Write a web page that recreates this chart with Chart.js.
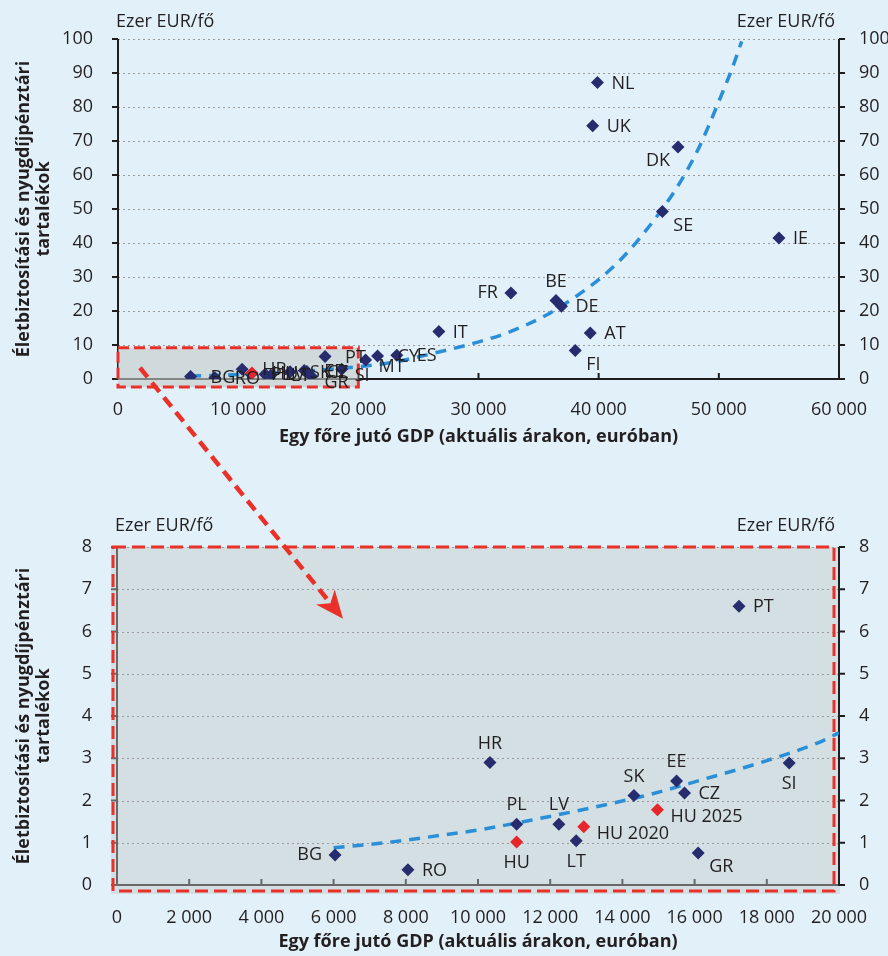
<!DOCTYPE html>
<html>
<head>
<meta charset="utf-8">
<script src="https://cdn.jsdelivr.net/npm/chart.js@4.4.1/dist/chart.umd.min.js"></script>
<style>
  body { margin: 0; background: #e2f0f9; }
  #wrap { position: relative; width: 888px; height: 956px; }
  #topChart { position: absolute; left: 0; top: 0; }
  #bottomChart { position: absolute; left: 0; top: 500px; }
  #arrow { position: absolute; left: 0; top: 0; pointer-events: none; }
</style>
</head>
<body>
<div id="wrap">
  <canvas id="topChart" width="888" height="450"></canvas>
  <canvas id="bottomChart" width="888" height="456"></canvas>
  <canvas id="arrow" width="888" height="956"></canvas>
</div>
<script>
// Felső ábra: EU-tagállamok (GDP/fő EUR, tartalékok ezer EUR/fő)
var topCountries = ['NL', 'UK', 'DK', 'SE', 'IE', 'FR', 'BE', 'DE', 'IT', 'AT', 'FI', 'ES', 'CY', 'MT', 'PT', 'SI', 'GR', 'CZ', 'EE', 'SK', 'LT', 'LV', 'PL', 'HR', 'RO', 'BG'];
var topGdp = [39900, 39500, 46600, 45300, 55000, 32700, 36450, 36900, 26700, 39300, 38050, 23200, 21600, 20600, 17230, 18620, 16100, 15720, 15500, 14320, 12720, 12240, 11070, 10330, 8060, 6040];
var topAssets = [87.2, 74.5, 68.2, 49.3, 41.5, 25.3, 23.1, 21.4, 14.0, 13.5, 8.4, 7.0, 6.8, 5.6, 6.6, 2.9, 0.8, 2.2, 2.5, 2.1, 1.1, 1.4, 1.4, 2.9, 0.4, 0.7];
var topHuNames = ['HU'];
var topHuGdp = [11150];
var topHuAssets = [1.8];
// felső trendvonal (leolvasott pontok)
var topTrendX = [6000, 10000, 15000, 20000, 23000, 25700, 30100, 32400, 35700, 38200, 40100, 41800, 43200, 45400, 46800, 48200, 49100, 50100, 51100, 51900];
var topTrendY = [0.9, 1.3, 2.2, 3.6, 5.0, 7.1, 11.0, 13.6, 18.9, 24.5, 29.5, 35.0, 40.5, 50.5, 58.0, 67.0, 74.0, 82.5, 91.3, 99.3];

// Alsó ábra: nagyított részlet
var botCountries = ['BG', 'RO', 'HR', 'PL', 'LV', 'LT', 'SK', 'EE', 'CZ', 'GR', 'SI', 'PT'];
var botGdp = [6040, 8060, 10330, 11070, 12240, 12720, 14320, 15500, 15720, 16100, 18620, 17230];
var botAssets = [0.71, 0.36, 2.90, 1.44, 1.44, 1.05, 2.12, 2.46, 2.18, 0.76, 2.89, 6.60];
var huNames = ['HU', 'HU 2020', 'HU 2025'];
var huGdp = [11070, 12930, 14970];
var huAssets = [1.02, 1.38, 1.78];
var botTrendX = [6000, 7000, 8000, 9000, 10000, 11500, 13100, 14700, 16200, 17800, 19400, 20000];
var botTrendY = [0.88, 0.96, 1.06, 1.18, 1.30, 1.54, 1.82, 2.13, 2.49, 2.89, 3.36, 3.60];

var unitText = 'Ezer EUR/fő';
var xTitle = 'Egy főre jutó GDP (aktuális árakon, euróban)';
var yTitle = ['Életbiztosítási és nyugdíjpénztári', 'tartalékok'];

var FONT = "'Open Sans', sans-serif";
var NAVY = '#262c6d', RED = '#e5262b', TREND = '#2a8fd7', TXT = '#231f20', DASHRED = '#ea3129';

function spaced(v) { return String(v).replace(/\B(?=(\d{3})+(?!\d))/g, ' '); }
function pts(xs, ys) { return xs.map(function (x, i) { return { x: x, y: ys[i] }; }); }

// címke elhelyezés
var offsets = {
  r:  { align: 'left', dx: 14, dy: 1 },
  rr: { align: 'left', dx: 20, dy: 1 },
  rd: { align: 'left', dx: 13, dy: 7 },
  rb: { align: 'left', dx: 11, dy: 14 },
  l:  { align: 'right', dx: -13, dy: 0 },
  lb: { align: 'right', dx: -8, dy: 14 },
  a:  { align: 'center', dx: 0, dy: -19 },
  b:  { align: 'center', dx: 0, dy: 21 }
};
var topPlace = { DK: 'lb', SE: 'rb', FR: 'l', BE: 'a', FI: 'rb', MT: 'rd', SI: 'rd', GR: 'rd' };
var botPlace = { BG: 'l', HR: 'a', PL: 'a', LV: 'a', SK: 'a', EE: 'a', HU: 'b', LT: 'b', SI: 'b', 'HU 2020': 'rd', 'HU 2025': 'rd', GR: 'rb', CZ: 'r' };

var pointLabels = {
  id: 'pointLabels',
  afterDatasetsDraw: function (chart, args, opts) {
    var ctx = chart.ctx;
    ctx.save();
    ctx.font = '18px ' + FONT;
    ctx.fillStyle = TXT;
    ctx.textBaseline = 'middle';
    chart.data.datasets.forEach(function (ds, i) {
      if (!ds.names) return;
      chart.getDatasetMeta(i).data.forEach(function (pt, j) {
        var name = ds.names[j];
        var key = opts.place[name] || (ds.data[j].x < opts.nearX ? 'rr' : 'r');
        var o = offsets[key];
        ctx.textAlign = o.align;
        ctx.fillText(name, pt.x + o.dx, pt.y + o.dy);
      });
    });
    ctx.restore();
  }
};

var frame = {
  id: 'frame',
  beforeDraw: function (chart, args, o) {
    var ctx = chart.ctx, a = chart.chartArea, x = chart.scales.x, y = chart.scales.y;
    ctx.save();
    if (o.plotFill) {
      ctx.fillStyle = o.plotFill;
      ctx.fillRect(a.left - 6, a.top, a.right - a.left + 7, a.bottom - a.top + 9);
    }
    // pontozott rácsvonalak
    ctx.strokeStyle = '#9b9b9b';
    ctx.lineWidth = 1;
    ctx.setLineDash([2, 3]);
    y.ticks.forEach(function (t) {
      if (t.value === 0) return;
      var py = Math.round(y.getPixelForValue(t.value)) + 0.5;
      ctx.beginPath(); ctx.moveTo(a.left, py); ctx.lineTo(a.right, py); ctx.stroke();
    });
    ctx.setLineDash([]);
    ctx.lineWidth = 2;
    ctx.strokeStyle = o.axisColor;
    ctx.beginPath();
    ctx.moveTo(a.left, a.top); ctx.lineTo(a.left, a.bottom); ctx.lineTo(a.right, a.bottom);
    y.ticks.forEach(function (t) { var py = y.getPixelForValue(t.value); ctx.moveTo(a.left - 6, py); ctx.lineTo(a.left, py); });
    x.ticks.forEach(function (t) { var px = x.getPixelForValue(t.value); ctx.moveTo(px, a.bottom); ctx.lineTo(px, a.bottom - 6); });
    ctx.stroke();
    ctx.strokeStyle = '#1e1e1e';
    ctx.beginPath();
    ctx.moveTo(a.right, a.top); ctx.lineTo(a.right, a.bottom + 1);
    y.ticks.forEach(function (t) { var py = y.getPixelForValue(t.value); ctx.moveTo(a.right, py); ctx.lineTo(a.right + 6, py); });
    ctx.stroke();
    ctx.restore();
  },
  beforeDatasetsDraw: function (chart, args, o) {
    var ctx = chart.ctx, a = chart.chartArea, x = chart.scales.x, y = chart.scales.y;
    ctx.save();
    ctx.strokeStyle = DASHRED;
    ctx.lineWidth = 3;
    if (o.zoomBox) {
      var b = o.zoomBox;
      var l = x.getPixelForValue(b[0]), r = x.getPixelForValue(b[1]);
      var t = y.getPixelForValue(b[3]) - 4, btm = y.getPixelForValue(b[2]) + 8;
      ctx.fillStyle = 'rgba(196,203,200,0.6)';
      ctx.fillRect(l, t, r - l, btm - t);
      ctx.setLineDash([11, 5]);
      ctx.strokeRect(l, t, r - l, btm - t);
    }
    if (o.border) {
      ctx.setLineDash([13, 6]);
      ctx.strokeRect(a.left - 4, a.top, a.right - a.left - 1, a.bottom - a.top + 6);
    }
    ctx.restore();
  }
};

var titles = {
  id: 'titles',
  afterDraw: function (chart, args, o) {
    var ctx = chart.ctx, a = chart.chartArea, H = chart.height;
    ctx.save();
    ctx.fillStyle = TXT;
    ctx.font = '18px ' + FONT;
    ctx.textBaseline = 'alphabetic';
    ctx.textAlign = 'left';
    ctx.fillText(unitText, a.left - 2, o.unitY);
    ctx.textAlign = 'right';
    ctx.fillText(unitText, a.right - 4, o.unitY);
    ctx.font = 'bold 18px ' + FONT;
    ctx.textAlign = 'center';
    ctx.fillText(xTitle, (a.left + a.right) / 2, H - o.xTitleBottom);
    ctx.translate(0, (a.top + a.bottom) / 2);
    ctx.rotate(-Math.PI / 2);
    ctx.textBaseline = 'middle';
    ctx.fillText(yTitle[0], 0, 24);
    ctx.fillText(yTitle[1], 0, 44);
    ctx.restore();
  }
};

function tickFont() { return { family: FONT, size: 18 }; }

function makeScales(xMax, xStep, yMax, yStep, dims) {
  return {
    x: {
      type: 'linear', min: 0, max: xMax,
      grid: { display: false }, border: { display: false },
      ticks: { stepSize: xStep, padding: dims.xPad, color: TXT, font: tickFont(), maxRotation: 0, autoSkip: false, callback: spaced },
      afterFit: function (s) { s.height = dims.xH; }
    },
    y: {
      position: 'left', min: 0, max: yMax,
      grid: { display: false }, border: { display: false },
      ticks: { stepSize: yStep, padding: 17, color: TXT, font: tickFont() },
      afterFit: function (s) { s.width = dims.left; }
    },
    y2: {
      position: 'right', min: 0, max: yMax, display: true,
      grid: { display: false }, border: { display: false },
      ticks: { stepSize: yStep, padding: 12, color: TXT, font: tickFont() },
      afterFit: function (s) { s.width = dims.right; }
    }
  };
}

function trendSet(xs, ys) {
  return {
    type: 'line', data: pts(xs, ys), borderColor: TREND, borderWidth: 3.5,
    borderDash: [11, 8], pointRadius: 0, cubicInterpolationMode: 'monotone', order: 3
  };
}

function diamonds(names, xs, ys, color, order) {
  return {
    type: 'scatter', names: names, data: pts(xs, ys), pointStyle: 'rectRot',
    pointRadius: 6.5, backgroundColor: color, borderWidth: 0, order: order
  };
}

var topChart = new Chart(document.getElementById('topChart'), {
  type: 'scatter',
  data: {
    datasets: [
      trendSet(topTrendX, topTrendY),
      diamonds(topCountries, topGdp, topAssets, NAVY, 2),
      diamonds(topHuNames, topHuGdp, topHuAssets, RED, 1)
    ]
  },
  options: {
    responsive: false, animation: false, events: [],
    layout: { padding: { top: 39 } },
    scales: makeScales(60000, 10000, 100, 10, { xPad: 12, xH: 71, left: 118, right: 49 }),
    plugins: {
      legend: { display: false }, tooltip: { enabled: false },
      frame: { axisColor: '#1e1e1e', zoomBox: [0, 20000, 0, 8] },
      titles: { unitY: 27, xTitleBottom: 8 },
      pointLabels: { place: topPlace, nearX: 24000 }
    }
  },
  plugins: [frame, pointLabels, titles]
});

var bottomChart = new Chart(document.getElementById('bottomChart'), {
  type: 'scatter',
  data: {
    datasets: [
      trendSet(botTrendX, botTrendY),
      diamonds(botCountries, botGdp, botAssets, NAVY, 2),
      diamonds(huNames, huGdp, huAssets, RED, 1)
    ]
  },
  options: {
    responsive: false, animation: false, events: [],
    layout: { padding: { top: 47 } },
    scales: makeScales(20000, 2000, 8, 1, { xPad: 14, xH: 71, left: 117, right: 49 }),
    plugins: {
      legend: { display: false }, tooltip: { enabled: false },
      frame: { axisColor: '#686868', plotFill: '#d3dfe2', border: true },
      titles: { unitY: 31, xTitleBottom: 9 },
      pointLabels: { place: botPlace, nearX: 0 }
    }
  },
  plugins: [frame, pointLabels, titles]
});

// nyíl a felső kiemelt tartományból az alsó ábrára
var arrowFrom = [1830, 3.3];
var arrowTo = [6260, 6.3];
(function drawArrow() {
  var ctx = document.getElementById('arrow').getContext('2d');
  var x1 = topChart.scales.x.getPixelForValue(arrowFrom[0]);
  var y1 = topChart.scales.y.getPixelForValue(arrowFrom[1]);
  var x2 = bottomChart.scales.x.getPixelForValue(arrowTo[0]);
  var y2 = 500 + bottomChart.scales.y.getPixelForValue(arrowTo[1]);
  var ang = Math.atan2(y2 - y1, x2 - x1);
  var ux = Math.cos(ang), uy = Math.sin(ang), px = -uy, py = ux;
  var L = 28, W = 12, N = 8;
  ctx.strokeStyle = DASHRED;
  ctx.fillStyle = DASHRED;
  ctx.lineWidth = 4.5;
  ctx.setLineDash([12, 7]);
  ctx.beginPath();
  ctx.moveTo(x1, y1);
  ctx.lineTo(x2 - ux * (L - 4), y2 - uy * (L - 4));
  ctx.stroke();
  ctx.setLineDash([]);
  ctx.beginPath();
  ctx.moveTo(x2, y2);
  ctx.lineTo(x2 - ux * L + px * W, y2 - uy * L + py * W);
  ctx.lineTo(x2 - ux * (L - N), y2 - uy * (L - N));
  ctx.lineTo(x2 - ux * L - px * W, y2 - uy * L - py * W);
  ctx.closePath();
  ctx.fill();
})();
</script>
</body>
</html>
